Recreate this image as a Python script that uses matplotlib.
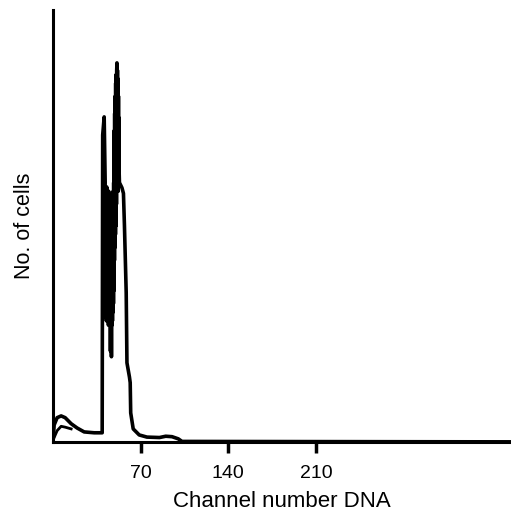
import matplotlib
matplotlib.use("Agg")
import matplotlib.pyplot as plt

plt.rcParams.update({'font.family': 'Liberation Sans'})

# DNA channel number vs. cell count
channel = [0, 0.8, 3.2, 6.4, 9.6, 14.4, 19.2, 24.8, 32.8, 39.2, 39.6, 40.8, 41.6,
           40.2, 40.4, 40.6, 40.8, 41.0, 41.2, 41.4, 41.6, 41.8, 42.0, 42.2, 42.4,
           42.6, 42.8, 43.0, 43.2, 43.4, 43.6, 43.8, 44.0, 44.2, 44.4, 44.6, 44.8,
           45.0, 45.2, 45.4, 45.6, 45.8, 46.0, 46.2, 46.4, 46.6, 46.8, 47.0, 47.2,
           47.4, 47.6, 47.8, 48.0, 48.2, 48.4, 48.6,
           48.8, 49.0, 49.2, 49.4, 49.6, 49.8, 50.0, 50.2, 50.4, 50.6, 50.8, 51.0,
           51.2, 51.4, 51.6, 51.8, 52.0, 52.2, 52.4, 52.6, 52.8, 53.0,
           55.0, 56.2, 57.0, 58.4, 59.0, 61.0, 61.6, 62.0, 64.0, 68.8,
           75.0, 85.0, 90.0, 95.0, 100.0, 103.0, 366.0]
cells = [0.5, 3.9, 5.6, 6.0, 5.6, 4.2, 3.2, 2.3, 2.1, 2.1, 71.0, 75.2, 60.0,
         30.0, 58.0, 29.0, 60.0, 31.0, 59.0, 32.0, 57.0, 29.0, 58.0, 30.0, 57.0,
         28.0, 59.0, 30.0, 58.0, 29.0, 56.0, 31.0, 57.0, 27.0, 58.0, 30.0, 57.0,
         29.0, 56.0, 28.0, 55.0, 21.0, 57.0, 25.0, 56.0, 19.7, 55.0, 27.0, 54.0,
         28.0, 57.0, 30.0, 58.0, 32.0, 60.0, 35.0,
         72.0, 42.0, 76.0, 45.0, 80.0, 48.0, 83.0, 50.0, 85.0, 55.0, 86.0, 87.7,
         58.0, 86.0, 60.0, 84.0, 58.0, 80.0, 60.0, 75.0, 62.0, 60.0,
         58.8, 57.5, 50.0, 34.5, 18.3, 15.0, 13.7, 6.7, 3.0, 1.6,
         1.1, 1.0, 1.3, 1.2, 0.7, 0.1, 0.0]

# inner trace under the small debris bump near the origin
bump_channel = [0.8, 3.2, 6.4, 9.6, 14.4]
bump_cells = [1.0, 2.6, 3.6, 3.4, 3.0]

xticks = [70, 140, 210]

fig = plt.figure(figsize=(5.11, 5.12), dpi=100)
ax = fig.add_axes([0.104, 0.137, 0.896, 0.844])

ax.plot(channel, cells, color='black', linewidth=2.6, solid_joinstyle='round')
ax.plot(bump_channel, bump_cells, color='black', linewidth=2.0)

ax.set_xlim(0, 366)
ax.set_ylim(0, 100)
ax.set_xticks(xticks)
ax.set_xticklabels([str(t) for t in xticks])
ax.set_yticks([])
ax.tick_params(axis='x', direction='out', length=8, width=2.5, labelsize=14, pad=9)

for side in ['top', 'right']:
    ax.spines[side].set_visible(False)
for side in ['left', 'bottom']:
    ax.spines[side].set_linewidth(2.2)

ax.set_xlabel("Channel number DNA", fontsize=16, labelpad=6.5)
ax.set_ylabel("No. of cells", fontsize=15.5, labelpad=13)

plt.savefig('out.png', dpi=100)
